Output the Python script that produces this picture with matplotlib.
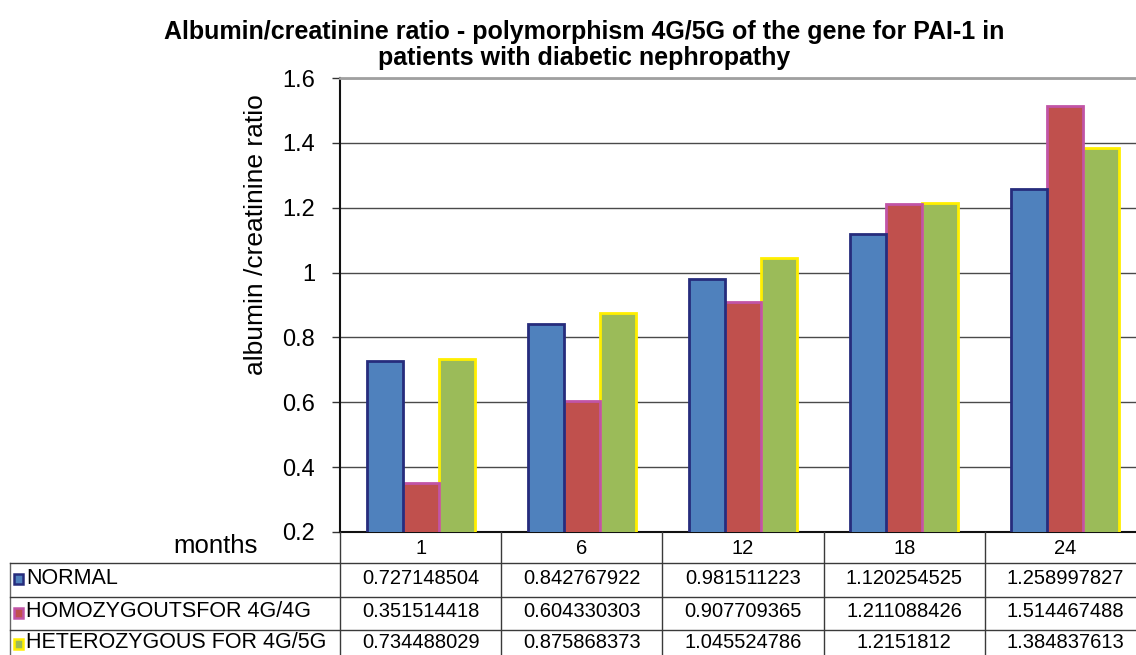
import matplotlib
matplotlib.use('Agg')
import matplotlib.pyplot as plt
from matplotlib import transforms
from matplotlib.patches import Rectangle
from matplotlib.lines import Line2D
import numpy as np

# ---------------- data ----------------
months = ['1', '6', '12', '18', '24']
series_names = ['NORMAL', 'HOMOZYGOUTSFOR 4G/4G', 'HETEROZYGOUS FOR 4G/5G']
normal = [0.727148504, 0.842767922, 0.981511223, 1.120254525, 1.258997827]
homozygous = [0.351514418, 0.604330303, 0.907709365, 1.211088426, 1.514467488]
heterozygous = [0.734488029, 0.875868373, 1.045524786, 1.2151812, 1.384837613]
yticks = [0.2, 0.4, 0.6, 0.8, 1.0, 1.2, 1.4, 1.6]
ytick_labels = ['0.2', '0.4', '0.6', '0.8', '1', '1.2', '1.4', '1.6']
title = ('Albumin/creatinine ratio - polymorphism 4G/5G of the gene for PAI-1 in\n'
         'patients with diabetic nephropathy')
ylabel = 'albumin /creatinine ratio'
row_header = 'months'

series = [normal, homozygous, heterozygous]
fills = ['#4F81BD', '#C0504D', '#9BBB59']
edges = ['#262C7C', '#C154A6', '#FFEF00']

plt.rcParams['font.family'] = ['Liberation Sans', 'DejaVu Sans']

W, H = 1136, 655
fig = plt.figure(figsize=(W / 100, H / 100), dpi=100)


def fx(px):
    return px / W


def fy(py):
    return 1 - py / H


cat_w = 161.2
ax_top, ax_bot = 78, 532
ax = fig.add_axes([fx(340), fy(ax_bot), 5 * cat_w / W, (ax_bot - ax_top) / H])

x = np.arange(len(months))
bw = 0.223
for k, vals in enumerate(series):
    ax.bar(x + (k - 1) * bw, vals, width=bw, color=fills[k], edgecolor=edges[k],
           linewidth=2.0, zorder=3 - k * 0.1)

ax.set_xlim(-0.5, len(months) - 0.5)
ax.set_ylim(0.2, 1.6)
ax.set_yticks(yticks)
ax.set_yticklabels(ytick_labels, fontsize=17)
ax.set_xticks([])
ax.tick_params(axis='y', direction='out', length=6, width=1, color='#333333', pad=12)
ax.yaxis.grid(True, color='#4a4a4a', linewidth=1.0)
ax.set_axisbelow(True)
ax.spines['right'].set_visible(False)
ax.spines['top'].set_color('#a0a0a0')
ax.spines['top'].set_linewidth(2.0)
ax.spines['left'].set_color('#111111')
ax.spines['left'].set_linewidth(1.5)
ax.spines['bottom'].set_color('#111111')
ax.spines['bottom'].set_linewidth(1.5)

# title and y label
fig.text(fx(584), fy(45), title, ha='center', va='center', fontsize=18,
         fontweight='bold', linespacing=1.15)
fig.text(fx(256), fy(235), ylabel, ha='center', va='center', rotation=90, fontsize=19)
fig.text(fx(258), fy(553), row_header, ha='right', va='baseline', fontsize=18.5)

# ---------------- data table ----------------
blend = transforms.blended_transform_factory(ax.transData, fig.transFigure)
row_lines = [532, 563, 597, 630, 660]
line_col = '#3a3a3a'

# vertical column separators
for i in range(len(months) + 1):
    fig.add_artist(Line2D([i - 0.5, i - 0.5], [fy(row_lines[0]), fy(row_lines[-1])],
                          transform=blend, color=line_col, linewidth=1.0))
# left border of the table
fig.add_artist(Line2D([fx(10), fx(10)], [fy(row_lines[1]), fy(row_lines[-1])],
                      transform=fig.transFigure, color='#666666', linewidth=1.0))
# horizontal row separators
for r in row_lines[1:-1]:
    fig.add_artist(Line2D([fx(10), 1.0], [fy(r), fy(r)], transform=fig.transFigure,
                          color=line_col, linewidth=1.0))

# header row: month labels
for i, m in enumerate(months):
    fig.text(i, fy((row_lines[0] + row_lines[1]) / 2 + 1), m, transform=blend,
             ha='center', va='center', fontsize=14.5)

# rows
for k, (name, vals) in enumerate(zip(series_names, series)):
    yc = (row_lines[k + 1] + row_lines[k + 2]) / 2 - 2
    fig.add_artist(Rectangle((fx(14), fy(yc + 6)), 9 / W, 10 / H, transform=fig.transFigure,
                             facecolor=fills[k], edgecolor=edges[k], linewidth=1.8))
    fig.text(fx(26), fy(yc), name, ha='left', va='center', fontsize=15.5)
    for i, v in enumerate(vals):
        fig.text(i, fy(yc), repr(v), transform=blend, ha='center', va='center', fontsize=14.5)

fig.savefig('out.png', dpi=100)
